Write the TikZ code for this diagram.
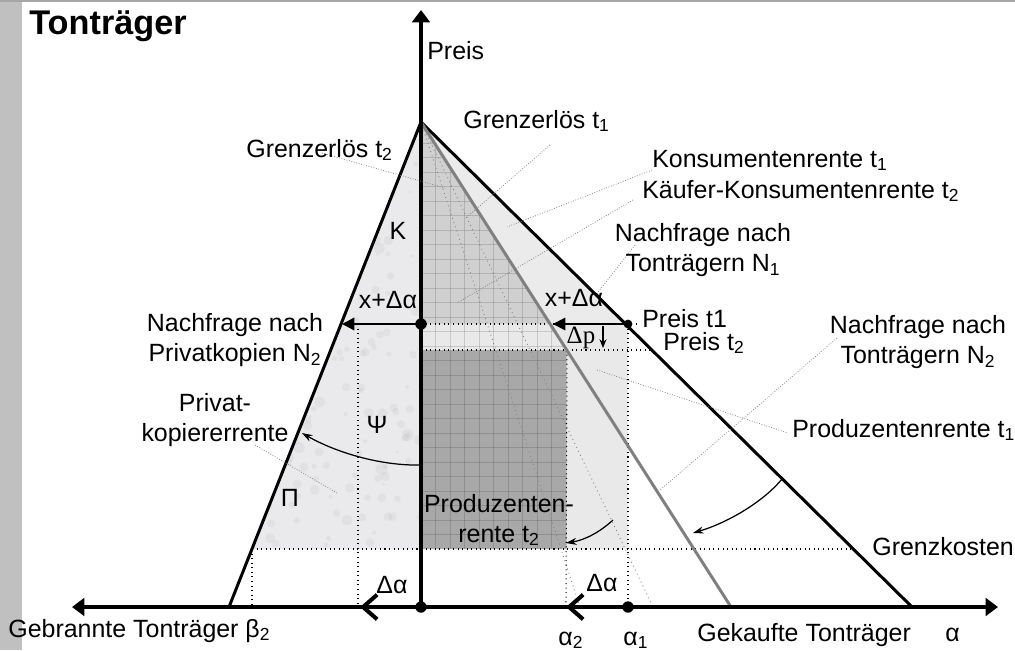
\documentclass[tikz,border=0pt]{standalone}
\usepackage{fontspec}
\setmainfont{Liberation Sans}
\newfontfamily\seriffont{Liberation Serif}
\usetikzlibrary{calc,arrows.meta}
\definecolor{stripgray}{RGB}{192,192,192}
\definecolor{marble}{RGB}{234,234,236}
\definecolor{konsgray}{RGB}{235,235,235}
\definecolor{gridfill}{RGB}{208,208,208}
\definecolor{speckle}{RGB}{233,233,233}
\definecolor{prodgray}{RGB}{168,168,168}
\definecolor{nzweigray}{RGB}{128,128,128}

\begin{document}
\begin{tikzpicture}[x=0.02cm, y=-0.02cm,
  lbl/.style={inner sep=0pt, font=\fontsize{14.2}{17}\selectfont},
  guide/.style={dotted, line width=0.6pt},
  ray/.style={dotted, gray, line width=0.5pt},
  leader/.style={densely dotted, gray, line width=0.45pt},
  curvedarrow/.style={line width=0.7pt, -{Stealth[length=6pt,width=4pt]}},
  axisline/.style={line width=2.3pt},
  move/.style={line width=1.3pt, -{Triangle[length=7pt,width=7pt]}},
  chevron/.style={line width=2.3pt, -{Straight Barb[length=8pt,width=14pt]}},
  bigdot/.style={circle, fill, inner sep=0pt, minimum size=6.5pt},
  gridline/.style={black, opacity=0.14, line width=0.5pt}]
\useasboundingbox (0,0) rectangle (1015,650);

% frame of the slide
\fill[stripgray] (0,0) rectangle (22,650);
\fill[gray!70] (0,0) rectangle (1015,2);

% key points
\coordinate (apex) at (421,122);
\coordinate (orig) at (421,607);
\coordinate (nOne) at (912,607);
\coordinate (nTwo) at (731,607);
\coordinate (bTwo) at (229,607);
\coordinate (mrOne) at (653,607);
\coordinate (mrTwo) at (580,607);
\coordinate (pOne) at (628,324);
\coordinate (pOneAx) at (421,324);
\coordinate (pOneEnd) at (640,324);
\coordinate (pTwoAx) at (421,350);
\coordinate (pTwoEnd) at (652,350);
\coordinate (pTwoN) at (567,350);
\coordinate (gkL) at (252,549);
\coordinate (gkAx) at (421,549);
\coordinate (gkR) at (853,549);
\coordinate (kLeft) at (342,324);
\coordinate (kRight) at (553,324);
\coordinate (aOne) at (628,607);
\coordinate (aTwo) at (566,607);
\coordinate (dA) at (360,607);
\coordinate (yTop) at (421,10);
\coordinate (xRight) at (998,607);
\coordinate (xLeft) at (72,607);

% Privatkopiererrente (marble)
\begin{scope}
  \clip (apex) -- (gkL) -- (gkAx) -- cycle;
  \fill[marble] (apex) -- (gkL) -- (gkAx) -- cycle;
  \pgfmathsetseed{11}
  \foreach \i in {1,...,220}{
    \fill[black, opacity=0.035] (250+171*rnd, 122+427*rnd) circle [radius={1pt+2.5pt*rnd}];
  }
\end{scope}

% Konsumentenrente t1
\fill[konsgray] (apex) -- (pOne) -- (pOneAx) -- cycle;
\fill[gridfill] (apex) -- (pTwoN) -- (pTwoAx) -- cycle;
% Produzentenrente t1 and t2
\fill[speckle] (pOneAx) rectangle (628,549);
\fill[prodgray] (pTwoAx) rectangle (566,549);

% grid over the N2 area
\begin{scope}
  \clip (apex) -- (pTwoN) -- (567,549) -- (gkAx) -- cycle;
  \foreach \i in {0,...,10}{
    \draw[gridline] (421+14.5*\i,122) -- (421+14.5*\i,549);
  }
  \foreach \i in {0,...,30}{
    \draw[gridline] (421,549-14.5*\i) -- (570,549-14.5*\i);
  }
\end{scope}

% Grenzerloese
\draw[ray] (apex) -- (mrOne);
\draw[ray] (apex) -- (mrTwo);

% price and cost levels
\draw[guide] (pOneAx) -- (pOneEnd);
\draw[guide] (pTwoAx) -- (pTwoEnd);
\draw[guide] (gkL) -- (gkR);
\draw[guide] (358,324) -- (358,607);
\draw[guide] (pOne) -- (aOne);
\draw[guide] (gkL) -- (252,607);
\draw[guide] (pTwoN) -- (aTwo);

% demand curves
\draw[line width=1.7pt] (apex) -- (nOne);
\draw[line width=1.7pt] (apex) -- (bTwo);
\draw[nzweigray, line width=1.7pt] (apex) -- (nTwo);

% axes
\draw[axisline, -{Triangle[length=7pt,width=10pt]}] (orig) -- (yTop);
\draw[axisline, {Triangle[length=7pt,width=10pt]}-{Triangle[length=7pt,width=10pt]}] (xLeft) -- (xRight);

% shifts
\draw[move] (pOneAx) -- (kLeft);
\draw[move] (pOne) -- (kRight);
\draw[chevron] (orig) -- (dA);
\draw[chevron] (aOne) -- (aTwo);
\coordinate (dpS) at (603,326);
\coordinate (dpE) at (603,348);
\draw[line width=0.6pt, -{Stealth[length=5pt,width=4pt]}] (dpS) -- (dpE);

\node[bigdot] (oDot) at (orig) {};
\node[bigdot] (pAxDot) at (pOneAx) {};
\node[bigdot] (aOneDot) at (aOne) {};
\node[bigdot, minimum size=5pt] (pOneDot) at (pOne) {};

% leaders
\draw[leader] (322,153) -- (445,188);
\draw[leader] (550,145) -- (467,217);
\draw[leader] (652,170) -- (507,227);
\draw[leader] (633,200) -- (457,303);
\draw[leader] (635,245) -- (598,292);
\draw[leader] (837,338) -- (660,490);
\draw[leader] (597,370) -- (788,433);
\draw[leader] (255,445) -- (337,493);

% curved arrows
\coordinate (psiS) at (421,465);
\coordinate (psiE) at (302,433);
\draw[curvedarrow] (psiS) .. controls (380,466) and (335,452) .. (psiE);
\coordinate (prS) at (613,520);
\coordinate (prE) at (566,543);
\draw[curvedarrow] (prS) .. controls (600,532) and (585,540) .. (prE);
\coordinate (nS) at (782,479);
\coordinate (nE) at (693,533);
\draw[curvedarrow] (nS) .. controls (765,500) and (730,522) .. (nE);

% labels
\node[lbl, font=\bfseries\fontsize{19.5}{24}\selectfont, anchor=base west] (title) at (29,34) {Tonträger};
\node[lbl, anchor=base west] (preis) at (427,59) {Preis};
\node[lbl, anchor=base west] (mrOneLbl) at (463,128) {Grenzerlös t\textsubscript{1}};
\node[lbl, anchor=base west] (mrTwoLbl) at (246,157) {Grenzerlös t\textsubscript{2}};
\node[lbl, anchor=base west] (ksOneLbl) at (652,167) {Konsumentenrente t\textsubscript{1}};
\node[lbl, anchor=base west] (ksTwoLbl) at (642,198) {Käufer-Konsumentenrente t\textsubscript{2}};
\node[lbl, align=center] (nOneLbl) at (703,250) {Nachfrage nach\\Tonträgern N\textsubscript{1}};
\node[lbl, anchor=base west] (pOneLbl) at (642,327) {Preis t1};
\node[lbl, anchor=base west] (pTwoLbl) at (663,350) {Preis t\textsubscript{2}};
\node[lbl, align=center] (nTwoLbl) at (918,342) {Nachfrage nach\\Tonträgern N\textsubscript{2}};
\node[lbl, anchor=base west] (prOneLbl) at (792,437) {Produzentenrente t\textsubscript{1}};
\node[lbl, anchor=base west] (gkLbl) at (872,555) {Grenzkosten};
\node[lbl, anchor=base west] (xLbl) at (697,641) {Gekaufte Tonträger};
\node[lbl, anchor=base west] (alphaLbl) at (945,641) {α};
\node[lbl, anchor=base west] (aTwoLbl) at (558,645) {α\textsubscript{2}};
\node[lbl, anchor=base west] (aOneLbl) at (623,645) {α\textsubscript{1}};
\node[lbl, anchor=base west] (yLbl) at (8,637) {Gebrannte Tonträger β\textsubscript{2}};
\node[lbl, align=center] (nPkLbl) at (235,340) {Nachfrage nach\\Privatkopien N\textsubscript{2}};
\node[lbl, align=center] (pkLbl) at (215,420) {Privat-\\kopiererrente};
\node[lbl] (kLbl) at (398,231) {K};
\node[lbl] (psiLbl) at (377,425) {Ψ};
\node[lbl] (piLbl) at (290,498) {Π};
\node[lbl, align=center] (prTwoLbl) at (499,520) {Produzenten-\\rente t\textsubscript{2}};
\node[lbl] (xdaL) at (388,300) {x+Δα};
\node[lbl] (xdaR) at (574,298) {x+Δα};
\node[lbl, font=\seriffont\fontsize{14.2}{17}\selectfont] (dpLbl) at (581,338) {Δp};
\node[lbl] (daL) at (392,585) {Δα};
\node[lbl] (daR) at (602,583) {Δα};
\end{tikzpicture}
\end{document}
